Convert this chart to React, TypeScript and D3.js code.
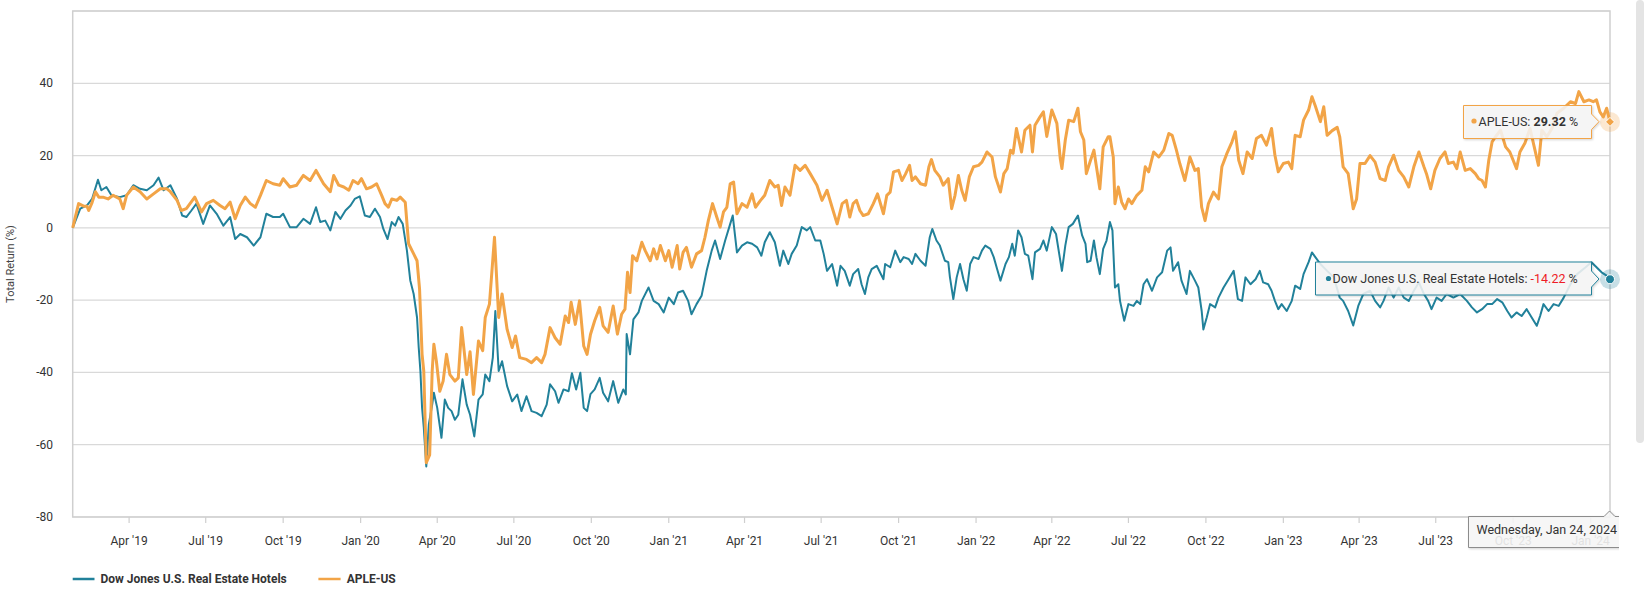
import React from "react";
import * as d3 from "d3";

// total return (%), as [days since 24 Jan 2019, value]
const START = new Date(2019, 0, 24);
const END = new Date(2024, 0, 24);

const DOW_HOTELS: [number, number][] = [
  [0,0],[9,5.3],[17,6.2],[23,8],[30,13.3],[34,10.4],[40,11.3],[46,9],[56,8.5],[64,9],[72,11.8],[80,10.8],[88,10.4],[96,11.8],[102,13.9],[108,10.4],[116,11.8],[124,8],[130,3.4],[135,3],[141,4.8],[147,6.7],[155,1.1],[163,6.2],[171,3.9],[179,0.6],[187,3],[193,-3.1],[199,-1.7],[207,-2.6],[215,-4.9],[223,-2.6],[230,3.9],[238,3],[246,3],[250,3.9],[258,0.2],[266,0.2],[274,2.5],[282,1.1],[289,5.7],[294,1.6],[300,2],[306,-0.7],[312,4.4],[318,2.5],[324,4.8],[330,6.2],[335,8],[341,8.7],[347,3.4],[353,3],[359,5.3],[365,3],[369,-0.3],[374,-3.1],[379,1.6],[383,0.6],[387,3],[392,1.1],[397,-6.3],[401,-14.6],[405,-18.3],[409,-24.8],[411,-33.1],[413,-39.6],[415,-49.8],[417,-55.2],[420,-66],[423,-54.4],[427,-48.9],[429,-45.6],[433,-49.8],[438,-58.1],[442,-47.5],[446,-49.8],[450,-50.7],[454,-53.1],[458,-51.7],[463,-41.9],[468,-48.9],[472,-51.7],[477,-57.7],[482,-47.5],[487,-46.1],[490,-40.6],[495,-42.4],[499,-35.9],[502,-23],[506,-39.6],[510,-36.9],[516,-43.8],[522,-48],[528,-46.1],[533,-50.7],[539,-46.6],[545,-50.7],[551,-51.2],[557,-52.1],[563,-48.9],[567,-43.3],[573,-45.2],[577,-48.4],[583,-44.7],[589,-45.2],[593,-40.2],[598,-44.7],[603,-40.1],[607,-49.8],[611,-50.7],[615,-46],[620,-44.7],[626,-41.5],[630,-45.6],[636,-48],[642,-42.4],[648,-48.4],[654,-44.7],[657,-46.1],[658,-29.4],[662,-35],[666,-25.3],[672,-23.4],[676,-20.2],[684,-16.5],[690,-20.2],[696,-21.1],[702,-23.4],[708,-19.3],[714,-21.1],[719,-17.9],[725,-17.4],[731,-20.2],[735,-23.9],[741,-21.1],[747,-18.8],[753,-11.9],[759,-6.3],[763,-3.5],[769,-8.6],[775,-3.5],[781,1.1],[784,3.4],[789,-6.8],[795,-4.9],[801,-4],[807,-4.4],[813,-5.4],[818,-7.7],[822,-4],[828,-1.2],[834,-4],[840,-10.5],[844,-6.3],[850,-10],[854,-7.2],[860,-4.9],[866,0.2],[872,-0.7],[876,0.2],[882,-3.5],[888,-3.5],[892,-7.2],[896,-11.9],[902,-10],[908,-16],[912,-10.5],[917,-11.9],[923,-16],[927,-12.8],[933,-11.4],[937,-15.6],[941,-18.3],[945,-13.7],[949,-11.4],[955,-10.5],[963,-14.2],[965,-10],[971,-10.9],[977,-6.3],[983,-9.5],[987,-8.1],[993,-8.6],[997,-10],[1001,-7.2],[1007,-9.1],[1013,-10.5],[1018,-2.6],[1021,-0.3],[1026,-3.5],[1030,-4.9],[1036,-9.1],[1040,-9.5],[1042,-13.7],[1046,-19.7],[1050,-13.7],[1054,-10],[1058,-14.2],[1062,-17.4],[1066,-10],[1070,-8.1],[1076,-8.6],[1080,-6.3],[1084,-4.9],[1090,-5.8],[1094,-8.1],[1098,-11.4],[1102,-14.6],[1108,-10],[1112,-8.1],[1116,-4.4],[1119,-7.7],[1123,-0.7],[1127,-2.6],[1131,-7.2],[1135,-7.7],[1140,-14.2],[1143,-6.8],[1149,-5.8],[1153,-3.5],[1157,-6.3],[1163,0.2],[1168,-1.7],[1175,-11.9],[1179,-4.9],[1183,0.2],[1188,1.1],[1194,3.4],[1199,-2.1],[1203,-4.4],[1205,-9.5],[1209,-9.1],[1213,-3.5],[1216,-8.1],[1220,-12.8],[1224,-5.8],[1228,-3.5],[1232,1.6],[1235,-0.7],[1238,-16.5],[1242,-15.6],[1244,-20.2],[1249,-25.7],[1254,-21.1],[1260,-21.6],[1264,-20.2],[1268,-21.1],[1272,-15.6],[1276,-14.2],[1282,-17.4],[1288,-13.7],[1294,-12.3],[1300,-6.3],[1304,-5.4],[1307,-11.9],[1313,-9.5],[1317,-14.6],[1323,-18.3],[1327,-11.9],[1333,-14.6],[1337,-16.5],[1341,-23],[1343,-28.1],[1347,-24.8],[1351,-21.1],[1357,-22],[1361,-19.3],[1367,-16.5],[1373,-14.2],[1379,-11.9],[1384,-19.7],[1389,-20.2],[1393,-13.7],[1399,-15.6],[1405,-14.2],[1410,-11.9],[1414,-15.1],[1420,-15.6],[1424,-17.4],[1428,-20.2],[1432,-22.5],[1436,-21.1],[1442,-23],[1448,-20.2],[1452,-16],[1458,-16.9],[1462,-12.8],[1468,-9.5],[1472,-6.8],[1476,-8.1],[1482,-10],[1490,-11.9],[1498,-13.7],[1505,-19.3],[1509,-20.2],[1515,-23],[1521,-27],[1527,-21.6],[1533,-18.3],[1541,-17.4],[1547,-20.2],[1553,-22],[1557,-20.2],[1563,-16.5],[1569,-19.3],[1575,-16.5],[1581,-19.3],[1587,-20.2],[1593,-17.4],[1599,-15.1],[1605,-18.3],[1610,-20.2],[1614,-22.5],[1620,-19.3],[1626,-20.2],[1632,-18.3],[1640,-19.3],[1648,-18.3],[1656,-20.2],[1662,-22],[1668,-23.4],[1674,-22.5],[1680,-21.1],[1686,-21.1],[1692,-19.7],[1698,-20.6],[1704,-23],[1709,-24.8],[1715,-23.4],[1721,-24.4],[1727,-22.5],[1733,-24.8],[1739,-27.1],[1743,-24.4],[1747,-21.1],[1753,-23],[1759,-21.1],[1765,-21.6],[1771,-19.3],[1779,-15.6],[1787,-12.8],[1797,-10.9],[1804,-9.5],[1810,-10.9],[1816,-12.3],[1822,-13.2],[1826,-14.22],
];

const APLE: [number, number][] = [
  [0,0],[7,6.7],[13,6],[17,6],[19,4.8],[23,7],[27,10],[31,8.5],[36,8.5],[42,8],[48,9],[56,8],[60,5.3],[64,9],[72,11.3],[80,10],[88,8],[96,9.4],[104,10.8],[112,10.8],[116,10],[124,7.6],[129,4.8],[135,5.3],[145,8.5],[153,4.4],[159,6.7],[167,7.6],[175,6.2],[181,5.3],[187,7.1],[193,2.5],[199,6.2],[205,8.5],[211,6.7],[217,5.7],[223,9],[230,13.1],[238,12.2],[246,11.8],[250,13.6],[258,11.3],[266,11.8],[274,14.5],[282,13.1],[289,15.9],[298,12.2],[306,10],[310,14.5],[316,11.8],[322,11.3],[328,10.4],[333,13.1],[339,12.2],[343,13.6],[349,10.8],[355,11.3],[361,12.2],[367,9],[371,6.7],[375,5.7],[379,8],[385,7.6],[389,8.5],[395,7.1],[399,-4.4],[405,-7.2],[409,-9.1],[412,-16.9],[415,-35],[417,-39.6],[420,-65],[424,-62.8],[427,-39.6],[429,-32.2],[432,-36.9],[436,-45.2],[440,-42.4],[444,-35],[448,-40.6],[454,-42.4],[458,-41.5],[462,-27.6],[468,-40.6],[472,-34.3],[476,-46.1],[482,-31.3],[487,-34],[490,-24.8],[495,-21.1],[501,-2.6],[506,-24.8],[510,-18.3],[516,-28.1],[522,-33.1],[526,-29.9],[531,-35.9],[539,-36.4],[545,-37.3],[551,-35.9],[557,-37.3],[561,-35],[567,-27.6],[573,-30.4],[579,-32.2],[585,-24.4],[589,-26.2],[592,-20.6],[597,-26.7],[602,-20.2],[607,-32.7],[611,-35],[615,-29.5],[620,-25.7],[626,-22],[630,-27.1],[636,-28.9],[642,-21.6],[647,-29.4],[652,-23.9],[656,-22.5],[659,-12.3],[662,-17.9],[665,-7.7],[670,-9.1],[676,-4],[680,-6.3],[686,-9.1],[690,-5.8],[694,-8.6],[698,-4.9],[704,-9.1],[708,-6.3],[712,-10.9],[718,-4.9],[721,-11.4],[725,-6.8],[729,-5.4],[735,-10.9],[741,-7.2],[747,-6.3],[751,-2.6],[755,2],[760,6.7],[765,3],[769,0.2],[773,4.4],[777,5.7],[781,12.2],[785,12.7],[789,3.9],[795,6.7],[801,5.7],[807,9.4],[811,5.7],[817,7.6],[822,9],[828,13.1],[834,11.3],[838,11.8],[842,6.2],[846,11.3],[852,9],[858,17.3],[864,15.9],[870,17.3],[876,15],[884,11.8],[890,7.6],[896,10.4],[902,5.7],[908,1.1],[914,6.7],[919,7.6],[923,3],[927,6.7],[931,7.6],[935,4.8],[939,3.4],[945,3.9],[951,6.7],[956,9.4],[963,3.9],[967,9],[971,9.9],[975,15.5],[981,15.9],[985,13.1],[989,14.8],[994,17.3],[997,13.1],[1001,14.1],[1007,12.2],[1013,11.8],[1017,16.9],[1020,18.9],[1024,15.9],[1030,14.1],[1034,11.8],[1040,13.6],[1044,5.3],[1048,9],[1052,14.5],[1056,10.4],[1060,7.6],[1065,14.1],[1070,16.9],[1076,17.3],[1080,18.2],[1086,21],[1092,19.6],[1096,14.1],[1102,9.9],[1106,15],[1110,16.4],[1114,21.5],[1117,20.6],[1121,27.5],[1127,21],[1131,27],[1137,28.4],[1140,21],[1143,28.4],[1149,30.7],[1153,32.1],[1157,25.3],[1163,32.6],[1169,28.9],[1173,19.2],[1175,16.4],[1179,24.3],[1183,29.8],[1189,29.4],[1194,33.1],[1197,26.6],[1201,24.3],[1204,15],[1209,18.7],[1213,21.5],[1216,16.9],[1220,10.8],[1224,22.4],[1230,25.2],[1232,25.2],[1236,19.6],[1238,6.7],[1242,11.3],[1246,7.1],[1250,5.3],[1254,8],[1258,6.7],[1264,9],[1270,10.4],[1274,16.9],[1278,15.5],[1284,21],[1290,19.6],[1296,21.5],[1302,26.1],[1306,25.6],[1311,21.5],[1315,17.8],[1321,13.1],[1327,19.6],[1333,15.9],[1337,16.4],[1341,5.7],[1345,2],[1349,6.7],[1355,9.9],[1361,8],[1365,16.9],[1371,20.6],[1377,23.8],[1381,26.6],[1385,18.7],[1390,15],[1395,21],[1401,19.2],[1406,24.7],[1412,25.6],[1418,22.9],[1424,27.5],[1428,20.1],[1432,15.5],[1438,17.8],[1444,18.2],[1448,16.4],[1452,25.6],[1458,25.2],[1462,29.8],[1468,32.6],[1472,36.3],[1476,33.7],[1482,29.4],[1486,33.5],[1490,25.6],[1496,26.9],[1502,27.8],[1505,25.2],[1509,16.9],[1515,15],[1521,5.3],[1525,8],[1529,17.8],[1535,17.8],[1541,20],[1547,18.2],[1553,13.6],[1559,13.1],[1563,16.9],[1569,20.1],[1575,15.9],[1581,14.1],[1587,11.3],[1593,16.9],[1599,21],[1605,16.9],[1608,15],[1613,10.8],[1618,15.9],[1624,19.2],[1630,21],[1634,17.8],[1640,18.2],[1644,16.4],[1648,21],[1654,15.9],[1660,16.4],[1666,15],[1670,13.6],[1674,13.1],[1678,11.3],[1682,18.7],[1686,23.8],[1690,25.2],[1696,27],[1702,22.4],[1707,21],[1715,16.4],[1719,21],[1725,23.5],[1731,27.5],[1736,22.4],[1741,17.3],[1745,27],[1751,25.2],[1757,27.5],[1763,31.7],[1771,33.1],[1779,34.9],[1785,34.4],[1789,37.7],[1795,34.9],[1801,35.4],[1806,34.9],[1810,35.4],[1814,32.1],[1818,30.7],[1822,33.1],[1826,29.32],
];

const Y_TICKS = [-80, -60, -40, -20, 0, 20, 40, 60];
const Y_LABELS = [-80, -60, -40, -20, 0, 20, 40];

const TEAL = "#21819a";
const ORANGE = "#f2a447";
const FONT = "Roboto, 'Liberation Sans', Arial, sans-serif";

export default function App() {
  const W = 1644;
  const H = 594;
  const left = 72.7;
  const right = 1610;
  const top = 11;
  const bottom = 517;

  const x = d3.scaleTime().domain([START, END]).range([left, right]);
  const y = d3.scaleLinear().domain([-80, 60]).range([bottom, top]);

  const line = d3
    .line<[number, number]>()
    .x((d) => x(d3.timeDay.offset(START, d[0])))
    .y((d) => y(d[1]));

  const xTicks = x.ticks(d3.timeMonth.every(3) as any);
  const fmt = d3.timeFormat("%b '%y");

  const lastDow = DOW_HOTELS[DOW_HOTELS.length - 1];
  const lastAple = APLE[APLE.length - 1];
  const ex = x(END);
  const apleY = y(lastAple[1]);
  const dowY = y(lastDow[1]);

  return (
    <div style={{ position: "absolute", left: 0, top: 0, width: W, height: H, background: "#fff" }}>
      <svg width={W} height={H} style={{ display: "block", fontFamily: FONT }}>
        <defs>
          <clipPath id="chartClip">
            <rect x={0} y={0} width={1619} height={H} />
          </clipPath>
          <filter id="tipShadow" x="-10%" y="-20%" width="130%" height="160%">
            <feDropShadow dx="1" dy="1" stdDeviation="1.2" floodOpacity="0.18" />
          </filter>
        </defs>

        {/* scrollbar strip */}
        <rect x={1636} y={0} width={8} height={443} rx={4} fill="#e4e4e4" />

        {/* grid */}
        {Y_TICKS.map((t) => (
          <line key={t} x1={left} x2={right} y1={y(t)} y2={y(t)} stroke="#d9d9d9" strokeWidth={1.2} />
        ))}
        <rect x={left} y={top} width={right - left} height={bottom - top} fill="none" stroke="#cfcfcf" strokeWidth={1.5} />

        {/* y labels */}
        {Y_LABELS.map((t) => (
          <text key={t} x={53} y={y(t) + 4} textAnchor="end" fontSize={12} fill="#333">
            {t}
          </text>
        ))}
        <text
          transform={`translate(14, ${(top + bottom) / 2}) rotate(-90)`}
          textAnchor="middle"
          fontSize={11}
          fill="#444"
        >
          Total Return (%)
        </text>

        {/* x axis */}
        {xTicks.map((d, i) => (
          <g key={i}>
            <line x1={x(d)} x2={x(d)} y1={bottom} y2={bottom + 6} stroke="#cfcfcf" strokeWidth={1.2} />
            <text x={x(d)} y={545} textAnchor="middle" fontSize={12} fill="#333">
              {fmt(d)}
            </text>
          </g>
        ))}

        {/* series */}
        <path d={line(DOW_HOTELS) ?? ""} fill="none" stroke={TEAL} strokeWidth={2} strokeLinejoin="round" />
        <path d={line(APLE) ?? ""} fill="none" stroke={ORANGE} strokeWidth={3} strokeLinejoin="round" />

        {/* hover markers */}
        <circle cx={ex} cy={apleY} r={10} fill={ORANGE} fillOpacity={0.25} />
        <path
          d={`M${ex},${apleY - 4.5} L${ex + 4.5},${apleY} L${ex},${apleY + 4.5} L${ex - 4.5},${apleY} Z`}
          fill={ORANGE}
          stroke="#fff"
          strokeWidth={1}
        />
        <circle cx={ex} cy={dowY} r={10} fill={TEAL} fillOpacity={0.25} />
        <circle cx={ex} cy={dowY} r={4.5} fill={TEAL} stroke="#fff" strokeWidth={1} />

        {/* APLE tooltip */}
        <g filter="url(#tipShadow)">
          <path
            d="M1463.5,105.5 H1591.5 V114 L1599,121.7 L1591.5,129.5 V138.5 H1463.5 Z"
            fill="#f7f7f7"
            fillOpacity={0.86}
            stroke={ORANGE}
            strokeWidth={1}
          />
        </g>
        <circle cx={1474} cy={121} r={2.6} fill={ORANGE} />
        <text x={1478.5} y={125.5} fontSize={12.5} fill="#333">
          APLE-US: <tspan fontWeight={700}>29.32</tspan> %
        </text>

        {/* Dow tooltip */}
        <g filter="url(#tipShadow)">
          <path
            d="M1315.5,262 H1591.5 V271 L1599,279 L1591.5,287 V295 H1315.5 Z"
            fill="#f7f7f7"
            fillOpacity={0.86}
            stroke={TEAL}
            strokeWidth={1}
          />
        </g>
        <circle cx={1328.5} cy={278.5} r={2.6} fill={TEAL} />
        <text x={1332.5} y={283} fontSize={12.5} fill="#333">
          Dow Jones U.S. Real Estate Hotels: <tspan fill="#ee1c25">-14.22</tspan> %
        </text>

        {/* date tooltip */}
        <g clipPath="url(#chartClip)">
          <g filter="url(#tipShadow)">
            <path
              d="M1468.5,516.5 H1604 L1609.5,511 L1615,516.5 H1660 V547.5 H1468.5 Z"
              fill="#f7f7f7"
              fillOpacity={0.88}
              stroke="#8c8c8c"
              strokeWidth={1}
            />
          </g>
          <text x={1476.5} y={534} fontSize={12.5} fill="#333">
            Wednesday, Jan 24, 2024
          </text>
        </g>

        {/* legend */}
        <line x1={72.7} x2={94.5} y1={579} y2={579} stroke={TEAL} strokeWidth={2.5} />
        <text x={100.5} y={583} fontSize={12} fontWeight={700} fill="#333">
          Dow Jones U.S. Real Estate Hotels
        </text>
        <line x1={318.4} x2={340.6} y1={579} y2={579} stroke={ORANGE} strokeWidth={2.5} />
        <text x={346.7} y={583} fontSize={12} fontWeight={700} fill="#333">
          APLE-US
        </text>
      </svg>
    </div>
  );
}
